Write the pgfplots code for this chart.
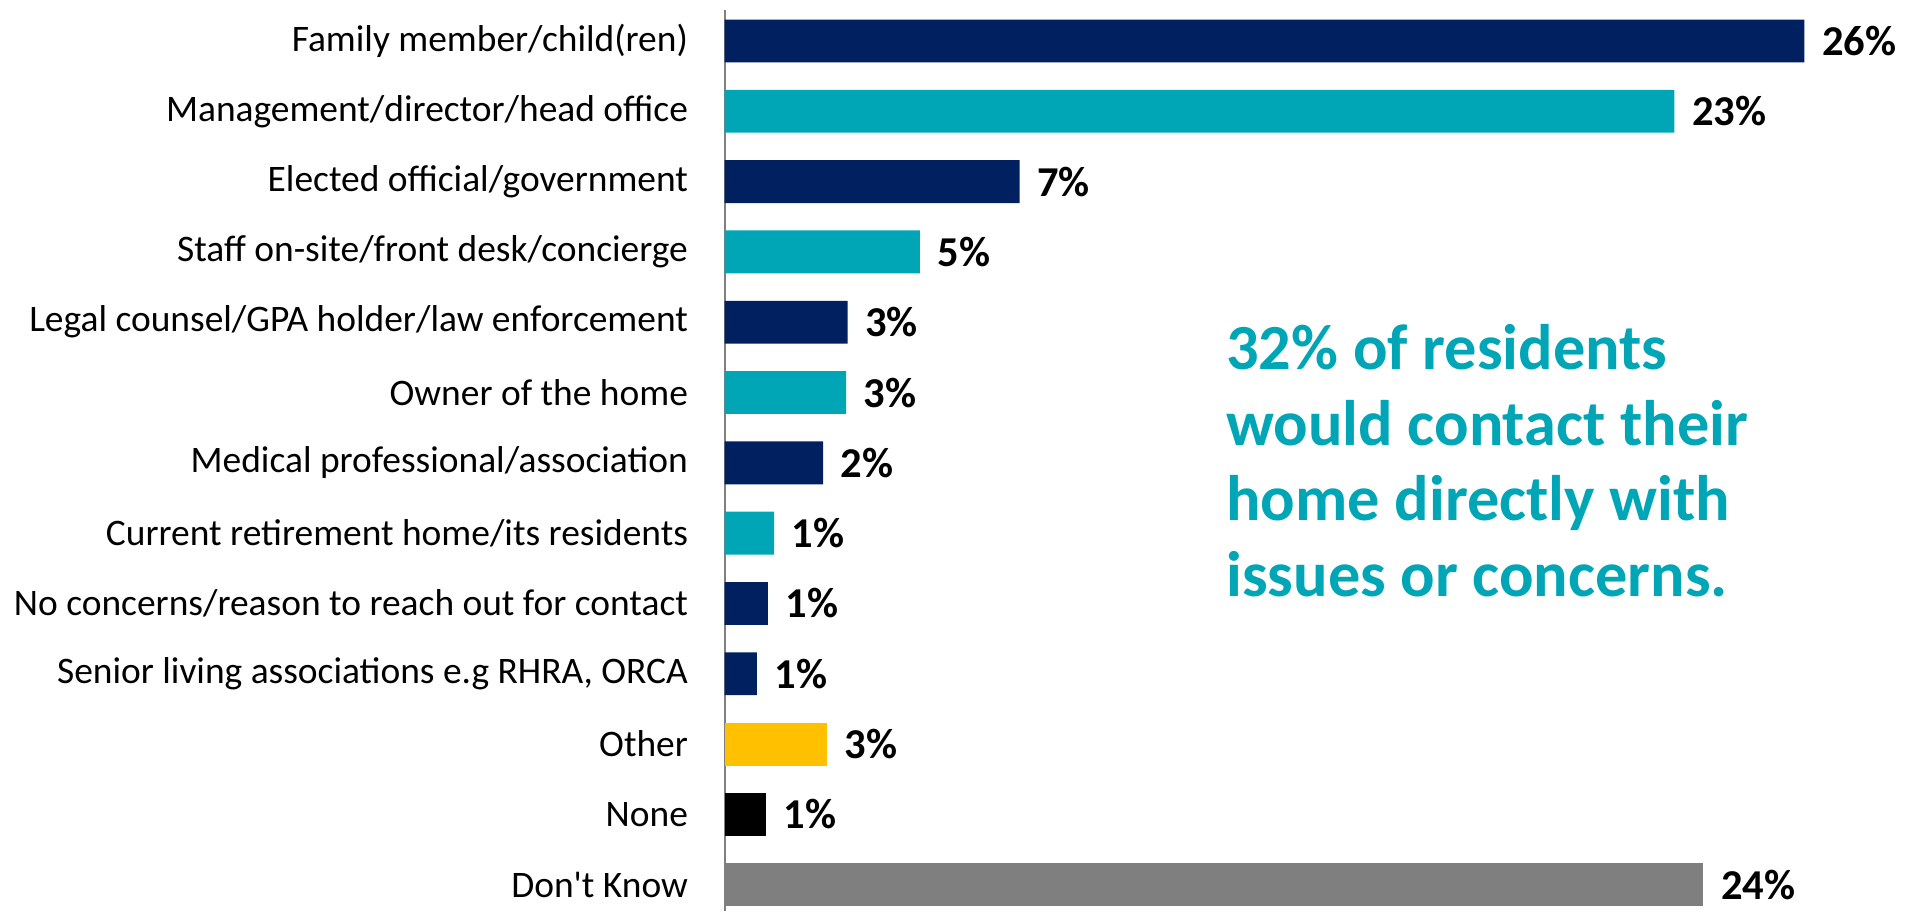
\documentclass[border=0pt]{standalone}
\usepackage{fontspec}
\setmainfont{Carlito}
\usepackage{pgfplots}
\pgfplotsset{compat=1.18}
\usetikzlibrary{calc}
\definecolor{navy}{HTML}{002060}
\definecolor{teal2}{HTML}{00A6B6}
\definecolor{amber}{HTML}{FFC000}
\definecolor{dgray}{HTML}{7F7F7F}
\begin{document}
\begin{tikzpicture}
\begin{axis}[name=ax,
  x=0.4086cm, y=0.703cm,
  xmin=0, xmax=29.2, ymin=-0.44, ymax=12.38,
  y dir=reverse,
  xbar, bar width=0.61, bar shift=0pt,
  axis x line=none, axis y line*=left,
  y axis line style={draw=gray, line width=0.6pt, -},
  ytick={0,...,12},
  yticklabels={{Family member/child(ren)},{Management/director/head office},{Elected official/government},{Staff on-site/front desk/concierge},{Legal counsel/GPA holder/law enforcement},{Owner of the home},{Medical professional/association},{Current retirement home/its residents},{No concerns/reason to reach out for contact},{Senior living associations e.g RHRA, ORCA},{Other},{None},{Don\textquotesingle t Know}},
  major tick length=0pt,
  yticklabel style={font=\fontsize{10.65}{12}\selectfont, anchor=east, inner sep=0pt, xshift=-0.36cm},
  clip=false,
  nodes near coords, point meta=explicit symbolic,
  every node near coord/.append style={font=\fontsize{12.1}{14}\selectfont\bfseries, anchor=west, inner sep=0pt, xshift=0.17cm, text=black},
]
\addplot[fill=navy, draw=none] coordinates {(26.42,0)[26\%] (7.22,2)[7\%] (3.01,4)[3\%] (2.41,6)[2\%] (1.06,8)[1\%] (0.79,9)[1\%]};
\addplot[fill=teal2, draw=none] coordinates {(23.24,1)[23\%] (4.78,3)[5\%] (2.97,5)[3\%] (1.21,7)[1\%]};
\addplot[fill=amber, draw=none] coordinates {(2.51,10)[3\%]};
\addplot[fill=black, draw=none] coordinates {(1.01,11)[1\%]};
\addplot[fill=dgray, draw=none] coordinates {(23.95,12)[24\%]};
\begin{scope}[every node/.style={anchor=base west, inner sep=0pt, font=\fontsize{18.3}{21.6}\selectfont\bfseries, text=teal2}]
\node at (axis cs:12.26,4.667) {32\% of residents};
\node at (axis cs:12.26,5.748) {would contact their};
\node at (axis cs:12.26,6.815) {home directly with};
\node at (axis cs:12.26,7.896) {issues or concerns.};
\end{scope}
\end{axis}
\pgfresetboundingbox
\path[use as bounding box] ($(ax.south west)+(-7.245cm,0)$) rectangle ($(ax.north east)+(0,0.10cm)$);
\end{tikzpicture}
\end{document}
